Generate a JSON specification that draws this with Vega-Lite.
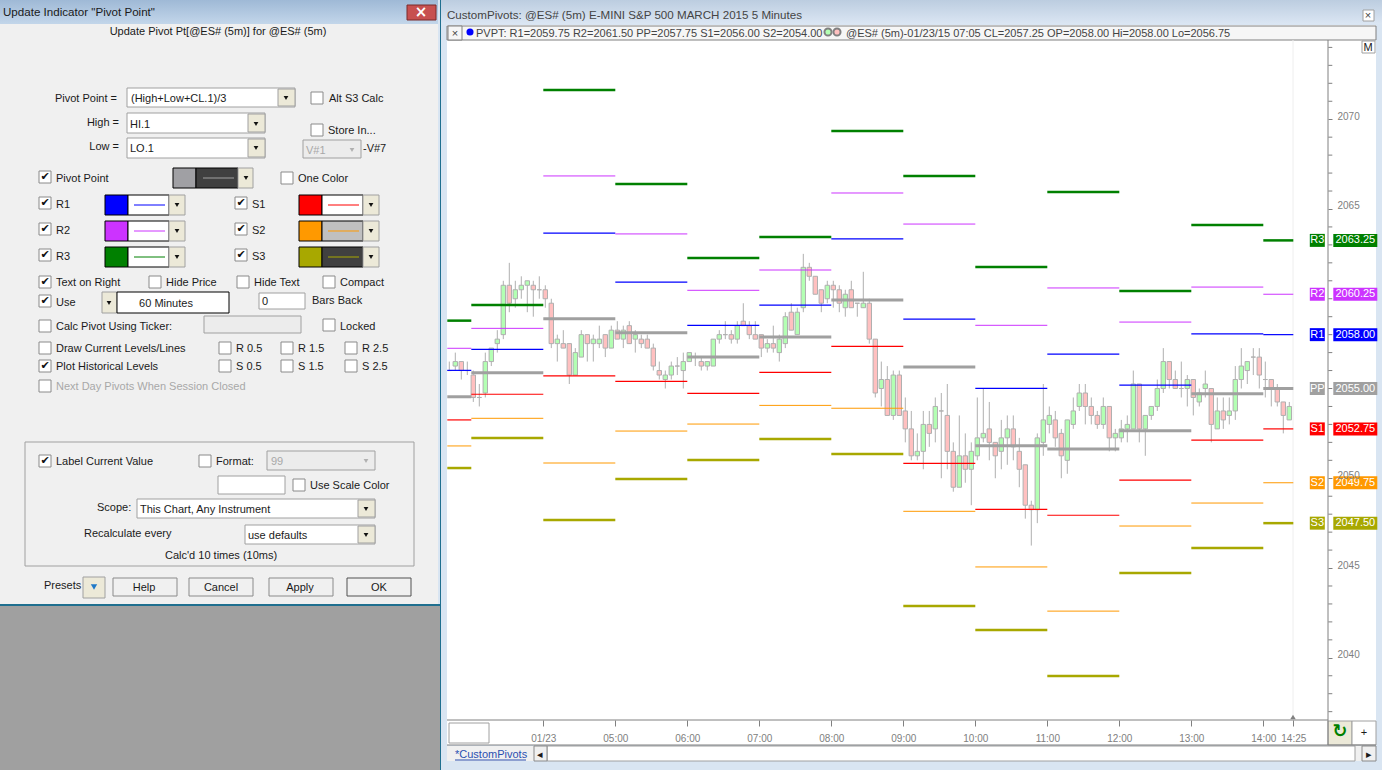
{"$schema":"https://vega.github.io/schema/vega-lite/v6.json","width":1382,"height":770,"padding":0,"autosize":"none","background":"#ffffff","config":{"view":{"stroke":null}},
"datasets":{
"panels":[
{"part":"desktop","col":0,"col2":440,"row":606,"row2":770},
{"part":"dialog","col":0,"col2":438,"row":24,"row2":604},
{"part":"frame","col":438,"col2":441,"row":0,"row2":606},
{"part":"teal","col":0,"col2":441,"row":604,"row2":606},
{"part":"teal","col":440,"col2":441,"row":0,"row2":770},
{"part":"frame","col":441,"col2":1382,"row":24,"row2":770},
{"part":"plot","col":447,"col2":1376,"row":25,"row2":745},
{"part":"strip","col":447,"col2":1376,"row":26,"row2":40},
{"part":"strip","col":448,"col2":462,"row":26,"row2":40},
{"part":"field","col":449,"col2":489,"row":723,"row2":743},
{"part":"ddbtn","col":1328,"col2":1352,"row":721,"row2":745},
{"part":"field","col":1352,"col2":1376,"row":721,"row2":745},
{"part":"dialog","col":447,"col2":1376,"row":746,"row2":761},
{"part":"field","col":547,"col2":1355,"row":746,"row2":761},
{"part":"button","col":534,"col2":547,"row":746,"row2":761},
{"part":"button","col":1362,"col2":1376,"row":746,"row2":761},
{"part":"field","col":1362,"col2":1375,"row":41,"row2":53},
{"part":"field","col":1363,"col2":1374,"row":10,"row2":21},
{"part":"close","col":407,"col2":436,"row":5,"row2":20},
{"part":"field","col":127,"col2":295,"row":88,"row2":107},
{"part":"ddbtn","col":278,"col2":295,"row":89,"row2":106},
{"part":"field","col":127,"col2":265,"row":113,"row2":133},
{"part":"ddbtn","col":248,"col2":265,"row":114,"row2":132},
{"part":"field","col":127,"col2":265,"row":138,"row2":158},
{"part":"ddbtn","col":248,"col2":265,"row":139,"row2":157},
{"part":"disabled","col":303,"col2":361,"row":140,"row2":158},
{"part":"sw-gray","col":173,"col2":196,"row":168,"row2":188},
{"part":"sw-dark","col":196,"col2":238,"row":168,"row2":188},
{"part":"ddbtn","col":238,"col2":253,"row":168,"row2":188},
{"part":"sw-blue","col":105,"col2":128,"row":195,"row2":215},
{"part":"blackbox","col":128,"col2":169,"row":195,"row2":215},
{"part":"ddbtn","col":169,"col2":185,"row":195,"row2":215},
{"part":"sw-magenta","col":105,"col2":128,"row":221,"row2":241},
{"part":"blackbox","col":128,"col2":169,"row":221,"row2":241},
{"part":"ddbtn","col":169,"col2":185,"row":221,"row2":241},
{"part":"sw-green","col":105,"col2":128,"row":247,"row2":267},
{"part":"blackbox","col":128,"col2":169,"row":247,"row2":267},
{"part":"ddbtn","col":169,"col2":185,"row":247,"row2":267},
{"part":"sw-red","col":299,"col2":322,"row":195,"row2":215},
{"part":"blackbox","col":322,"col2":363,"row":195,"row2":215},
{"part":"ddbtn","col":363,"col2":379,"row":195,"row2":215},
{"part":"sw-orange","col":299,"col2":322,"row":221,"row2":241},
{"part":"sw-silver","col":322,"col2":363,"row":221,"row2":241},
{"part":"ddbtn","col":363,"col2":379,"row":221,"row2":241},
{"part":"sw-olive","col":299,"col2":322,"row":247,"row2":267},
{"part":"sw-dark","col":322,"col2":363,"row":247,"row2":267},
{"part":"ddbtn","col":363,"col2":379,"row":247,"row2":267},
{"part":"ddbtn","col":102,"col2":117,"row":292,"row2":313},
{"part":"blackbox","col":117,"col2":229,"row":292,"row2":313},
{"part":"field","col":259,"col2":305,"row":293,"row2":309},
{"part":"disabled","col":204,"col2":301,"row":316,"row2":333},
{"part":"group","col":25,"col2":414,"row":442,"row2":566},
{"part":"disabled","col":267,"col2":375,"row":451,"row2":470},
{"part":"field","col":218,"col2":285,"row":476,"row2":494},
{"part":"field","col":137,"col2":375,"row":499,"row2":518},
{"part":"ddbtn","col":358,"col2":375,"row":500,"row2":517},
{"part":"field","col":245,"col2":375,"row":525,"row2":544},
{"part":"ddbtn","col":358,"col2":375,"row":526,"row2":543},
{"part":"ddbtn","col":83,"col2":105,"row":577,"row2":598},
{"part":"button","col":113,"col2":177,"row":578,"row2":596},
{"part":"button","col":189,"col2":253,"row":578,"row2":596},
{"part":"button","col":269,"col2":333,"row":578,"row2":596},
{"part":"okbutton","col":347,"col2":411,"row":578,"row2":596}
],
"lines":[
{"part":"ln-axis","col":447,"col2":1328,"row":720,"row2":720},
{"part":"ln-axis","col":1328,"col2":1328,"row":40,"row2":745},
{"part":"ln-axis","col":447,"col2":1376,"row":745,"row2":745},
{"part":"ln-faint","col":1293,"col2":1293,"row":40,"row2":716},
{"part":"ln-link","col":455,"col2":526,"row":760,"row2":760},
{"part":"ln-gray","col":203,"col2":234,"row":178,"row2":178},
{"part":"ln-blue","col":134,"col2":165,"row":205,"row2":205},
{"part":"ln-magenta","col":134,"col2":165,"row":231,"row2":231},
{"part":"ln-green","col":134,"col2":165,"row":257,"row2":257},
{"part":"ln-red","col":328,"col2":359,"row":205,"row2":205},
{"part":"ln-orange","col":328,"col2":359,"row":231,"row2":231},
{"part":"ln-olive","col":328,"col2":359,"row":257,"row2":257}
],
"boxes":[
{"col":317,"row":98,"on":false},{"col":317,"row":130,"on":false},{"col":45,"row":177,"on":true},{"col":287,"row":178,"on":false},
{"col":45,"row":203,"on":true},{"col":45,"row":229,"on":true},{"col":45,"row":255,"on":true},
{"col":241,"row":203,"on":true},{"col":241,"row":229,"on":true},{"col":241,"row":255,"on":true},
{"col":45,"row":282,"on":true},{"col":155,"row":282,"on":false},{"col":243,"row":282,"on":false},{"col":329,"row":282,"on":false},
{"col":45,"row":301,"on":true},{"col":45,"row":326,"on":false},{"col":329,"row":325,"on":false},
{"col":45,"row":348,"on":false},{"col":45,"row":366,"on":true},{"col":45,"row":386,"on":false},
{"col":225,"row":348,"on":false},{"col":287,"row":348,"on":false},{"col":351,"row":348,"on":false},
{"col":225,"row":366,"on":false},{"col":287,"row":366,"on":false},{"col":351,"row":366,"on":false},
{"col":45,"row":461,"on":true},{"col":205,"row":461,"on":false},{"col":299,"row":485,"on":false}
],
"arrows":[
{"col":286,"row":98},{"col":256,"row":124},{"col":256,"row":148},{"col":246,"row":178},
{"col":177,"row":205},{"col":177,"row":231},{"col":177,"row":257},{"col":371,"row":205},{"col":371,"row":231},{"col":371,"row":257},
{"col":109,"row":303},{"col":366,"row":509},{"col":366,"row":535}
],
"leftText":[
{"txt":"(High+Low+CL.1)/3","col":131,"row":98,"kind":"ink"},
{"txt":"Alt S3 Calc","col":329,"row":98,"kind":"ink"},
{"txt":"HI.1","col":130,"row":124,"kind":"ink"},
{"txt":"LO.1","col":130,"row":148,"kind":"ink"},
{"txt":"Store In...","col":328,"row":130,"kind":"ink"},
{"txt":"V#1","col":306,"row":150,"kind":"dim"},
{"txt":"-V#7","col":363,"row":148,"kind":"ink"},
{"txt":"Pivot Point","col":56,"row":178,"kind":"ink"},
{"txt":"One Color","col":298,"row":178,"kind":"ink"},
{"txt":"R1","col":56,"row":204,"kind":"ink"},{"txt":"R2","col":56,"row":230,"kind":"ink"},{"txt":"R3","col":56,"row":256,"kind":"ink"},
{"txt":"S1","col":252,"row":204,"kind":"ink"},{"txt":"S2","col":252,"row":230,"kind":"ink"},{"txt":"S3","col":252,"row":256,"kind":"ink"},
{"txt":"Text on Right","col":56,"row":282,"kind":"ink"},{"txt":"Hide Price","col":166,"row":282,"kind":"ink"},{"txt":"Hide Text","col":254,"row":282,"kind":"ink"},{"txt":"Compact","col":340,"row":282,"kind":"ink"},
{"txt":"Use","col":56,"row":302,"kind":"ink"},{"txt":"0","col":262,"row":301,"kind":"ink"},{"txt":"Bars Back","col":312,"row":300,"kind":"ink"},
{"txt":"Calc Pivot Using Ticker:","col":56,"row":326,"kind":"ink"},{"txt":"Locked","col":340,"row":326,"kind":"ink"},
{"txt":"Draw Current Levels/Lines","col":56,"row":348,"kind":"ink"},{"txt":"R 0.5","col":236,"row":348,"kind":"ink"},{"txt":"R 1.5","col":298,"row":348,"kind":"ink"},{"txt":"R 2.5","col":362,"row":348,"kind":"ink"},
{"txt":"Plot Historical Levels","col":56,"row":366,"kind":"ink"},{"txt":"S 0.5","col":236,"row":366,"kind":"ink"},{"txt":"S 1.5","col":298,"row":366,"kind":"ink"},{"txt":"S 2.5","col":362,"row":366,"kind":"ink"},
{"txt":"Next Day Pivots When Session Closed","col":56,"row":386,"kind":"dim"},
{"txt":"Label Current Value","col":56,"row":461,"kind":"ink"},{"txt":"Format:","col":216,"row":461,"kind":"ink"},{"txt":"99","col":271,"row":461,"kind":"dim"},
{"txt":"Use Scale Color","col":310,"row":485,"kind":"ink"},
{"txt":"Scope:","col":97,"row":507,"kind":"ink"},{"txt":"This Chart, Any Instrument","col":140,"row":509,"kind":"ink"},
{"txt":"Recalculate every","col":84,"row":533,"kind":"ink"},{"txt":"use defaults","col":248,"row":535,"kind":"ink"},
{"txt":"Calc'd 10 times (10ms)","col":165,"row":555,"kind":"ink"},{"txt":"Presets","col":44,"row":585,"kind":"ink"},
{"txt":"PVPT: R1=2059.75 R2=2061.50 PP=2057.75 S1=2056.00 S2=2054.00","col":476,"row":33,"kind":"soft"},
{"txt":"@ES# (5m)-01/23/15 07:05 CL=2057.25 OP=2058.00 Hi=2058.00 Lo=2056.75","col":846,"row":33,"kind":"soft"},
{"txt":"*CustomPivots","col":455,"row":754,"kind":"link"}
],
"centerText":[
{"txt":"Update Pivot Pt[@ES# (5m)]  for @ES# (5m)","col":218,"row":31,"kind":"ink"},
{"txt":"60 Minutes","col":166,"row":303,"kind":"ink"},
{"txt":"Help","col":144,"row":587,"kind":"ink"},{"txt":"Cancel","col":221,"row":587,"kind":"ink"},{"txt":"Apply","col":300,"row":587,"kind":"ink"},{"txt":"OK","col":379,"row":587,"kind":"ink"},
{"txt":"M","col":1368,"row":47,"kind":"ink"},{"txt":"×","col":455,"row":33,"kind":"soft"},{"txt":"×","col":1368,"row":15,"kind":"soft"},{"txt":"+","col":1364,"row":732,"kind":"ink"},
{"txt":"◂","col":540,"row":754,"kind":"ink"},{"txt":"▸","col":1369,"row":754,"kind":"ink"}
],
"rightText":[
{"txt":"Pivot Point =","col":117,"row":98,"kind":"ink"},{"txt":"High =","col":119,"row":122,"kind":"ink"},{"txt":"Low =","col":119,"row":146,"kind":"ink"}
],
"headers":[
{"txt":"Update Indicator \"Pivot Point\"","col":3,"row":13,"kind":"ink"},
{"txt":"CustomPivots: @ES# (5m) E-MINI S&P 500 MARCH 2015 5 Minutes","col":447,"row":16,"kind":"soft"}
],
"candles":[
{"t":"2015-01-23T02:45","o":2056,"h":2056.5,"l":2056,"c":2056},
{"t":"2015-01-23T02:50","o":2056.25,"h":2057,"l":2056,"c":2056.5},
{"t":"2015-01-23T02:55","o":2056.5,"h":2056.5,"l":2055.5,"c":2056},
{"t":"2015-01-23T03:00","o":2056,"h":2056.5,"l":2055.75,"c":2056},
{"t":"2015-01-23T03:05","o":2055.75,"h":2056,"l":2054.25,"c":2054.5},
{"t":"2015-01-23T03:10","o":2054.5,"h":2055.25,"l":2054,"c":2054.5},
{"t":"2015-01-23T03:15","o":2054.75,"h":2057,"l":2054.5,"c":2056.5},
{"t":"2015-01-23T03:20","o":2056.5,"h":2057.25,"l":2056.25,"c":2057.25},
{"t":"2015-01-23T03:25","o":2057.5,"h":2058.25,"l":2057,"c":2057.75},
{"t":"2015-01-23T03:30","o":2058,"h":2061,"l":2057.75,"c":2060.75},
{"t":"2015-01-23T03:35","o":2060.75,"h":2062,"l":2059.25,"c":2059.75},
{"t":"2015-01-23T03:40","o":2060,"h":2061,"l":2059.5,"c":2060.5},
{"t":"2015-01-23T03:45","o":2060.5,"h":2061.25,"l":2060,"c":2060.75},
{"t":"2015-01-23T03:50","o":2060.75,"h":2061,"l":2059.25,"c":2061},
{"t":"2015-01-23T03:55","o":2060.75,"h":2061,"l":2059,"c":2060.5},
{"t":"2015-01-23T04:00","o":2060.5,"h":2061.25,"l":2060,"c":2060.5},
{"t":"2015-01-23T04:05","o":2060.5,"h":2060.75,"l":2059.5,"c":2060},
{"t":"2015-01-23T04:10","o":2059.75,"h":2060,"l":2057.25,"c":2057.5},
{"t":"2015-01-23T04:15","o":2057.5,"h":2058,"l":2056.5,"c":2057.75},
{"t":"2015-01-23T04:20","o":2057.5,"h":2058.25,"l":2057.25,"c":2057.25},
{"t":"2015-01-23T04:25","o":2057.5,"h":2057.5,"l":2055.25,"c":2055.75},
{"t":"2015-01-23T04:30","o":2055.75,"h":2057.25,"l":2055.75,"c":2057},
{"t":"2015-01-23T04:35","o":2056.75,"h":2058.25,"l":2056.75,"c":2058},
{"t":"2015-01-23T04:40","o":2058,"h":2058,"l":2056.5,"c":2057.5},
{"t":"2015-01-23T04:45","o":2057.5,"h":2058,"l":2056.5,"c":2057.75},
{"t":"2015-01-23T04:50","o":2057.5,"h":2058.5,"l":2057.25,"c":2057.75},
{"t":"2015-01-23T04:55","o":2058,"h":2058,"l":2056.75,"c":2057.25},
{"t":"2015-01-23T05:00","o":2057.25,"h":2058.5,"l":2057.25,"c":2058.25},
{"t":"2015-01-23T05:05","o":2058.25,"h":2058.75,"l":2057.75,"c":2057.75},
{"t":"2015-01-23T05:10","o":2057.75,"h":2058.5,"l":2057.25,"c":2058.25},
{"t":"2015-01-23T05:15","o":2058.5,"h":2058.75,"l":2057.5,"c":2057.5},
{"t":"2015-01-23T05:20","o":2057.75,"h":2058.25,"l":2057,"c":2058},
{"t":"2015-01-23T05:25","o":2057.75,"h":2058,"l":2057.25,"c":2057.5},
{"t":"2015-01-23T05:30","o":2057.75,"h":2058,"l":2057.25,"c":2057.25},
{"t":"2015-01-23T05:35","o":2057.25,"h":2057.5,"l":2056,"c":2056.25},
{"t":"2015-01-23T05:40","o":2056,"h":2056.5,"l":2055.5,"c":2055.75},
{"t":"2015-01-23T05:45","o":2055.5,"h":2056,"l":2055,"c":2055.75},
{"t":"2015-01-23T05:50","o":2055.75,"h":2056.5,"l":2055.5,"c":2056.25},
{"t":"2015-01-23T05:55","o":2056.25,"h":2056.75,"l":2055.75,"c":2056.25},
{"t":"2015-01-23T06:00","o":2056,"h":2057,"l":2055,"c":2056.5},
{"t":"2015-01-23T06:05","o":2056.5,"h":2057,"l":2056.5,"c":2057},
{"t":"2015-01-23T06:10","o":2056.75,"h":2057,"l":2056.25,"c":2056.75},
{"t":"2015-01-23T06:15","o":2056.5,"h":2056.75,"l":2056,"c":2056.25},
{"t":"2015-01-23T06:20","o":2056.25,"h":2056.5,"l":2056,"c":2056.5},
{"t":"2015-01-23T06:25","o":2056.25,"h":2057.75,"l":2056.25,"c":2057.75},
{"t":"2015-01-23T06:30","o":2057.75,"h":2058.25,"l":2057.5,"c":2058},
{"t":"2015-01-23T06:35","o":2058,"h":2058.75,"l":2057.75,"c":2058},
{"t":"2015-01-23T06:40","o":2058,"h":2058.25,"l":2057.5,"c":2057.75},
{"t":"2015-01-23T06:45","o":2057.75,"h":2058.75,"l":2057.5,"c":2058.5},
{"t":"2015-01-23T06:50","o":2058.75,"h":2059.75,"l":2058.5,"c":2058.5},
{"t":"2015-01-23T06:55","o":2058.5,"h":2058.75,"l":2057.75,"c":2058},
{"t":"2015-01-23T07:00","o":2058,"h":2058.75,"l":2057.75,"c":2057.75},
{"t":"2015-01-23T07:05","o":2058,"h":2058,"l":2056.75,"c":2057.25},
{"t":"2015-01-23T07:10","o":2057.25,"h":2057.75,"l":2057,"c":2057.5},
{"t":"2015-01-23T07:15","o":2057.5,"h":2058.5,"l":2057,"c":2057.25},
{"t":"2015-01-23T07:20","o":2057,"h":2058,"l":2056.5,"c":2057.75},
{"t":"2015-01-23T07:25","o":2057.5,"h":2059.25,"l":2057.25,"c":2059},
{"t":"2015-01-23T07:30","o":2059.25,"h":2059.75,"l":2058.25,"c":2058.25},
{"t":"2015-01-23T07:35","o":2058,"h":2059.5,"l":2058,"c":2059.25},
{"t":"2015-01-23T07:40","o":2059.5,"h":2062.5,"l":2059.25,"c":2061.75},
{"t":"2015-01-23T07:45","o":2061.75,"h":2062,"l":2061,"c":2061.25},
{"t":"2015-01-23T07:50","o":2061.25,"h":2061.25,"l":2060.25,"c":2060.25},
{"t":"2015-01-23T07:55","o":2060.5,"h":2060.5,"l":2059.25,"c":2059.75},
{"t":"2015-01-23T08:00","o":2060,"h":2061,"l":2059.75,"c":2060.75},
{"t":"2015-01-23T08:05","o":2060.75,"h":2061,"l":2059.5,"c":2060.5},
{"t":"2015-01-23T08:10","o":2060.5,"h":2060.75,"l":2059.25,"c":2059.75},
{"t":"2015-01-23T08:15","o":2059.5,"h":2060.5,"l":2059,"c":2060.25},
{"t":"2015-01-23T08:20","o":2060.5,"h":2061,"l":2059.5,"c":2059.5},
{"t":"2015-01-23T08:25","o":2059.75,"h":2059.75,"l":2059,"c":2059.75},
{"t":"2015-01-23T08:30","o":2059.5,"h":2061.5,"l":2059.5,"c":2059.75},
{"t":"2015-01-23T08:35","o":2059.75,"h":2060,"l":2057.5,"c":2057.75},
{"t":"2015-01-23T08:40","o":2057.75,"h":2057.75,"l":2054.5,"c":2054.75},
{"t":"2015-01-23T08:45","o":2055,"h":2056.5,"l":2054,"c":2055.5},
{"t":"2015-01-23T08:50","o":2055.5,"h":2056.25,"l":2053.5,"c":2053.5},
{"t":"2015-01-23T08:55","o":2053.5,"h":2056,"l":2053.25,"c":2055.75},
{"t":"2015-01-23T09:00","o":2055.75,"h":2056,"l":2053.5,"c":2053.5},
{"t":"2015-01-23T09:05","o":2053.75,"h":2054.5,"l":2052,"c":2052.75},
{"t":"2015-01-23T09:10","o":2052.75,"h":2053.75,"l":2051,"c":2051.25},
{"t":"2015-01-23T09:15","o":2051.25,"h":2052.5,"l":2051,"c":2051.5},
{"t":"2015-01-23T09:20","o":2051.5,"h":2053.75,"l":2050.5,"c":2053},
{"t":"2015-01-23T09:25","o":2053,"h":2053.75,"l":2051.75,"c":2052.5},
{"t":"2015-01-23T09:30","o":2052.75,"h":2054.5,"l":2052,"c":2054},
{"t":"2015-01-23T09:35","o":2053.75,"h":2054.75,"l":2050,"c":2053.75},
{"t":"2015-01-23T09:40","o":2053.5,"h":2055.25,"l":2050.5,"c":2051.5},
{"t":"2015-01-23T09:45","o":2051.5,"h":2052,"l":2049.25,"c":2049.5},
{"t":"2015-01-23T09:50","o":2049.5,"h":2053.5,"l":2049.5,"c":2051.25},
{"t":"2015-01-23T09:55","o":2051.25,"h":2052.5,"l":2049.75,"c":2050.5},
{"t":"2015-01-23T10:00","o":2050.5,"h":2052,"l":2048.5,"c":2051.5},
{"t":"2015-01-23T10:05","o":2051.25,"h":2054.5,"l":2051,"c":2052.25},
{"t":"2015-01-23T10:10","o":2052.25,"h":2055,"l":2052,"c":2052.5},
{"t":"2015-01-23T10:15","o":2052.75,"h":2054.25,"l":2051,"c":2052},
{"t":"2015-01-23T10:20","o":2052,"h":2052,"l":2050,"c":2051.25},
{"t":"2015-01-23T10:25","o":2051.5,"h":2053.25,"l":2050.5,"c":2052.25},
{"t":"2015-01-23T10:30","o":2052.25,"h":2053.5,"l":2050.75,"c":2052.75},
{"t":"2015-01-23T10:35","o":2052.75,"h":2053.5,"l":2051,"c":2051.75},
{"t":"2015-01-23T10:40","o":2051.5,"h":2052.25,"l":2049.5,"c":2050.5},
{"t":"2015-01-23T10:45","o":2050.75,"h":2050.75,"l":2047.75,"c":2048.5},
{"t":"2015-01-23T10:50","o":2048.5,"h":2048.75,"l":2046.25,"c":2048.25},
{"t":"2015-01-23T10:55","o":2048.25,"h":2052.5,"l":2047.5,"c":2052.25},
{"t":"2015-01-23T11:00","o":2052,"h":2055.25,"l":2051.25,"c":2053.25},
{"t":"2015-01-23T11:05","o":2053,"h":2054,"l":2052.5,"c":2053.5},
{"t":"2015-01-23T11:10","o":2053.25,"h":2053.75,"l":2051.75,"c":2052.25},
{"t":"2015-01-23T11:15","o":2052.5,"h":2052.75,"l":2050,"c":2051.25},
{"t":"2015-01-23T11:20","o":2051,"h":2053.25,"l":2050.25,"c":2053.25},
{"t":"2015-01-23T11:25","o":2053,"h":2054.5,"l":2052.75,"c":2053.75},
{"t":"2015-01-23T11:30","o":2054,"h":2055.25,"l":2053.75,"c":2054.75},
{"t":"2015-01-23T11:35","o":2054.75,"h":2055.25,"l":2053,"c":2054},
{"t":"2015-01-23T11:40","o":2054,"h":2054.5,"l":2053,"c":2053.5},
{"t":"2015-01-23T11:45","o":2053.5,"h":2053.75,"l":2052.75,"c":2053},
{"t":"2015-01-23T11:50","o":2053,"h":2054.5,"l":2052.75,"c":2054},
{"t":"2015-01-23T11:55","o":2054,"h":2054,"l":2051.5,"c":2052.25},
{"t":"2015-01-23T12:00","o":2052.25,"h":2052.75,"l":2051.5,"c":2052.5},
{"t":"2015-01-23T12:05","o":2052.25,"h":2053.25,"l":2052,"c":2052.75},
{"t":"2015-01-23T12:10","o":2052.75,"h":2053.5,"l":2052,"c":2053},
{"t":"2015-01-23T12:15","o":2052.75,"h":2056,"l":2052.75,"c":2055.25},
{"t":"2015-01-23T12:20","o":2055.25,"h":2055.25,"l":2052,"c":2052.75},
{"t":"2015-01-23T12:25","o":2052.75,"h":2053.5,"l":2051.25,"c":2053.5},
{"t":"2015-01-23T12:30","o":2053.5,"h":2054,"l":2053.25,"c":2054},
{"t":"2015-01-23T12:35","o":2054,"h":2055.5,"l":2053.75,"c":2055},
{"t":"2015-01-23T12:40","o":2055,"h":2057.25,"l":2054.75,"c":2056.5},
{"t":"2015-01-23T12:45","o":2056.5,"h":2056.5,"l":2055,"c":2055.5},
{"t":"2015-01-23T12:50","o":2055.5,"h":2056,"l":2055,"c":2055},
{"t":"2015-01-23T12:55","o":2055,"h":2056.5,"l":2054.5,"c":2055},
{"t":"2015-01-23T13:00","o":2055,"h":2055.75,"l":2054,"c":2055.5},
{"t":"2015-01-23T13:05","o":2055.5,"h":2055.5,"l":2053.5,"c":2054.5},
{"t":"2015-01-23T13:10","o":2054.25,"h":2055,"l":2054,"c":2054.75},
{"t":"2015-01-23T13:15","o":2055,"h":2056,"l":2054.5,"c":2055.25},
{"t":"2015-01-23T13:20","o":2055,"h":2055,"l":2052,"c":2053},
{"t":"2015-01-23T13:25","o":2052.75,"h":2054.5,"l":2052.75,"c":2053.75},
{"t":"2015-01-23T13:30","o":2053.75,"h":2054.5,"l":2052.75,"c":2053.25},
{"t":"2015-01-23T13:35","o":2053.5,"h":2054.5,"l":2053,"c":2053.75},
{"t":"2015-01-23T13:40","o":2053.75,"h":2056.25,"l":2053.25,"c":2055.5},
{"t":"2015-01-23T13:45","o":2055.5,"h":2057.25,"l":2055,"c":2056.25},
{"t":"2015-01-23T13:50","o":2056,"h":2056.5,"l":2055.25,"c":2056.5},
{"t":"2015-01-23T13:55","o":2056.75,"h":2057.25,"l":2055.75,"c":2056.75},
{"t":"2015-01-23T14:00","o":2056.75,"h":2057.25,"l":2055,"c":2055.75},
{"t":"2015-01-23T14:05","o":2055.5,"h":2056.5,"l":2054.5,"c":2055.5},
{"t":"2015-01-23T14:10","o":2055.5,"h":2055.5,"l":2054,"c":2055},
{"t":"2015-01-23T14:15","o":2055,"h":2055.25,"l":2054,"c":2054.25},
{"t":"2015-01-23T14:20","o":2054.25,"h":2054.25,"l":2052.5,"c":2053.5},
{"t":"2015-01-23T14:25","o":2053.25,"h":2054.25,"l":2053.25,"c":2054}
],
"levels":[
{"a":"2015-01-23T02:40","b":"2015-01-23T03:00","R3":2058.78,"R2":2057.24,"R1":2056.01,"PP":2054.54,"S1":2053.25,"S2":2051.8,"S3":2050.57},
{"a":"2015-01-23T03:00","b":"2015-01-23T04:00","R3":2059.65,"R2":2058.35,"R1":2057.18,"PP":2055.88,"S1":2054.68,"S2":2053.34,"S3":2052.24},
{"a":"2015-01-23T04:00","b":"2015-01-23T05:00","R3":2071.63,"R2":2066.84,"R1":2063.66,"PP":2058.89,"S1":2055.7,"S2":2050.85,"S3":2047.67},
{"a":"2015-01-23T05:00","b":"2015-01-23T06:00","R3":2066.39,"R2":2063.61,"R1":2060.92,"PP":2058.11,"S1":2055.4,"S2":2052.63,"S3":2049.96},
{"a":"2015-01-23T06:00","b":"2015-01-23T07:00","R3":2062.27,"R2":2060.47,"R1":2058.52,"PP":2056.75,"S1":2054.73,"S2":2053.02,"S3":2051.02},
{"a":"2015-01-23T07:00","b":"2015-01-23T08:00","R3":2063.44,"R2":2061.6,"R1":2059.64,"PP":2057.87,"S1":2055.9,"S2":2054.06,"S3":2052.19},
{"a":"2015-01-23T08:00","b":"2015-01-23T09:00","R3":2069.35,"R2":2065.89,"R1":2063.33,"PP":2059.93,"S1":2057.35,"S2":2053.9,"S3":2051.35},
{"a":"2015-01-23T09:00","b":"2015-01-23T10:00","R3":2066.84,"R2":2064.16,"R1":2058.86,"PP":2056.2,"S1":2050.83,"S2":2048.16,"S3":2042.88},
{"a":"2015-01-23T10:00","b":"2015-01-23T11:00","R3":2061.77,"R2":2058.52,"R1":2055.01,"PP":2051.81,"S1":2048.27,"S2":2045.06,"S3":2041.55},
{"a":"2015-01-23T11:00","b":"2015-01-23T12:00","R3":2065.95,"R2":2060.6,"R1":2056.92,"PP":2051.63,"S1":2047.94,"S2":2042.6,"S3":2038.98},
{"a":"2015-01-23T12:00","b":"2015-01-23T13:00","R3":2060.43,"R2":2058.7,"R1":2055.19,"PP":2052.65,"S1":2049.9,"S2":2047.34,"S3":2044.72},
{"a":"2015-01-23T13:00","b":"2015-01-23T14:00","R3":2064.11,"R2":2060.65,"R1":2058.04,"PP":2054.71,"S1":2052.13,"S2":2048.62,"S3":2046.11},
{"a":"2015-01-23T14:00","b":"2015-01-23T14:25","R3":2063.25,"R2":2060.25,"R1":2058,"PP":2055,"S1":2052.75,"S2":2049.75,"S3":2047.5}
],
"chips":[
{"t":"2015-01-23T14:25","lv":"R3","p":2063.25,"val":"2063.25"},
{"t":"2015-01-23T14:25","lv":"R2","p":2060.25,"val":"2060.25"},
{"t":"2015-01-23T14:25","lv":"R1","p":2058,"val":"2058.00"},
{"t":"2015-01-23T14:25","lv":"PP","p":2055,"val":"2055.00"},
{"t":"2015-01-23T14:25","lv":"S1","p":2052.75,"val":"2052.75"},
{"t":"2015-01-23T14:25","lv":"S2","p":2049.75,"val":"2049.75"},
{"t":"2015-01-23T14:25","lv":"S3","p":2047.5,"val":"2047.50"}
],
"minorTicks":[
{"t":"2015-01-23T14:25","p":2037},{"t":"2015-01-23T14:25","p":2038},{"t":"2015-01-23T14:25","p":2039},{"t":"2015-01-23T14:25","p":2041},{"t":"2015-01-23T14:25","p":2042},{"t":"2015-01-23T14:25","p":2043},{"t":"2015-01-23T14:25","p":2044},{"t":"2015-01-23T14:25","p":2046},{"t":"2015-01-23T14:25","p":2047},{"t":"2015-01-23T14:25","p":2048},{"t":"2015-01-23T14:25","p":2049},{"t":"2015-01-23T14:25","p":2051},{"t":"2015-01-23T14:25","p":2052},{"t":"2015-01-23T14:25","p":2053},{"t":"2015-01-23T14:25","p":2054},{"t":"2015-01-23T14:25","p":2055},{"t":"2015-01-23T14:25","p":2056},{"t":"2015-01-23T14:25","p":2057},{"t":"2015-01-23T14:25","p":2058},{"t":"2015-01-23T14:25","p":2059},{"t":"2015-01-23T14:25","p":2060},{"t":"2015-01-23T14:25","p":2061},{"t":"2015-01-23T14:25","p":2062},{"t":"2015-01-23T14:25","p":2063},{"t":"2015-01-23T14:25","p":2064},{"t":"2015-01-23T14:25","p":2066},{"t":"2015-01-23T14:25","p":2067},{"t":"2015-01-23T14:25","p":2068},{"t":"2015-01-23T14:25","p":2069},{"t":"2015-01-23T14:25","p":2071},{"t":"2015-01-23T14:25","p":2072},{"t":"2015-01-23T14:25","p":2073},{"t":"2015-01-23T14:25","p":2074}
]
},
"resolve":{"scale":{"x":"independent","y":"independent","stroke":"independent","color":"independent","fill":"independent"}},
"layer":[
{
"encoding":{
"x":{"field":"col","type":"quantitative","axis":null,"scale":{"domain":[0,1382],"nice":false,"zero":false}},
"y":{"field":"row","type":"quantitative","axis":null,"scale":{"domain":[770,0],"nice":false,"zero":false}}
},
"layer":[
{"data":{"values":[{"col":0,"col2":438,"row":0,"row2":24}]},"mark":{"type":"rect","color":{"gradient":"linear","x1":0,"y1":0,"x2":0,"y2":1,"stops":[{"offset":0,"color":"#9fb9d6"},{"offset":1,"color":"#c3d6ea"}]}},"encoding":{"x2":{"field":"col2"},"y2":{"field":"row2"}}},
{"data":{"values":[{"col":441,"col2":1382,"row":0,"row2":24}]},"mark":{"type":"rect","color":{"gradient":"linear","x1":0,"y1":0,"x2":0,"y2":1,"stops":[{"offset":0,"color":"#bccde0"},{"offset":1,"color":"#dbe6f3"}]}},"encoding":{"x2":{"field":"col2"},"y2":{"field":"row2"}}},
{"data":{"name":"panels"},"mark":{"type":"rect","strokeWidth":1},
"encoding":{"x2":{"field":"col2"},"y2":{"field":"row2"},
"fill":{"field":"part","type":"nominal","legend":null,"scale":{"domain":["desktop","dialog","frame","teal","plot","strip","field","ddbtn","button","okbutton","close","disabled","group","blackbox","sw-gray","sw-dark","sw-blue","sw-magenta","sw-green","sw-red","sw-orange","sw-silver","sw-olive"],"range":["#a0a0a0","#f0f0f0","#d9e5f2","#1f6f8f","#ffffff","#f6f6f6","#ffffff","#ece9d8","#f0f0f0","#f0f0f0","#c75050","#ececec","transparent","#ffffff","#a0a0a4","#404040","#0000ff","#cc33ff","#008000","#ff0000","#ff9900","#c0c0c0","#a8a800"]}},
"stroke":{"field":"part","type":"nominal","legend":null,"scale":{"domain":["desktop","dialog","frame","teal","plot","strip","field","ddbtn","button","okbutton","close","disabled","group","blackbox","sw-gray","sw-dark","sw-blue","sw-magenta","sw-green","sw-red","sw-orange","sw-silver","sw-olive","ln-axis","ln-faint","ln-link","ln-gray","ln-blue","ln-magenta","ln-green","ln-red","ln-orange","ln-olive"],"range":["transparent","transparent","transparent","transparent","transparent","#808080","#a0a0a0","#a0a0a0","#8a8a8a","#505050","#7a2a2a","#a0a0a0","#a0a0a0","#000000","#000000","#000000","#000000","#000000","#000000","#000000","#000000","#000000","#000000","#808080","#eeeeee","#2a4fb0","#a0a0a0","#0000ff","#cc33ff","#008000","#ff0000","#ff9900","#a8a800"]}}}},
{"data":{"name":"lines"},"mark":{"type":"rule","strokeWidth":1},"encoding":{"x2":{"field":"col2"},"y2":{"field":"row2"},"stroke":{"field":"part","type":"nominal","legend":null}}},
{"data":{"name":"boxes"},"mark":{"type":"point","shape":"square","size":144,"filled":true,"fill":"#ffffff","stroke":"#8a8a8a","strokeWidth":1,"opacity":1}},
{"data":{"name":"boxes"},"transform":[{"filter":"datum.on"}],"mark":{"type":"text","text":"✔","font":"DejaVu Sans","fontSize":11,"color":"#111111"}},
{"data":{"name":"arrows"},"mark":{"type":"point","shape":"triangle-down","size":22,"filled":true,"color":"#111111","opacity":1}},
{"data":{"values":[{"col":94,"row":587}]},"mark":{"type":"point","shape":"triangle-down","size":40,"filled":true,"color":"#1f78c8","opacity":1}},
{"data":{"values":[{"col":366,"row":461},{"col":352,"row":150}]},"mark":{"type":"point","shape":"triangle-down","size":22,"filled":true,"color":"#b0b0b0","opacity":1}},
{"data":{"values":[{"col":470,"row":32}]},"mark":{"type":"point","shape":"circle","size":50,"filled":true,"color":"#0000ff","opacity":1}},
{"data":{"values":[{"col":828,"row":32}]},"mark":{"type":"point","shape":"circle","size":50,"filled":true,"fill":"#b3ffb3","stroke":"#808080","opacity":1}},
{"data":{"values":[{"col":837,"row":32}]},"mark":{"type":"point","shape":"circle","size":50,"filled":true,"fill":"#ffc0c0","stroke":"#808080","opacity":1}},
{"data":{"values":[{"col":1293,"row":717}]},"mark":{"type":"point","shape":"triangle-up","size":30,"filled":true,"color":"#808080","opacity":1}},
{"data":{"values":[{"col":1340,"row":732,"g":"↻"}]},"mark":{"type":"text","font":"DejaVu Sans","fontSize":18,"fontWeight":"bold","color":"#008000"},"encoding":{"text":{"field":"g"}}},
{"data":{"values":[{"col":421,"row":12,"g":"×"}]},"mark":{"type":"text","font":"DejaVu Sans","fontSize":15,"fontWeight":"bold","color":"#ffffff"},"encoding":{"text":{"field":"g"}}},
{"data":{"name":"leftText"},"mark":{"type":"text","align":"left","baseline":"middle","dy":1,"font":"Liberation Sans","fontSize":11},"encoding":{"text":{"field":"txt"},"color":{"field":"kind","type":"nominal","legend":null,"scale":{"domain":["ink","dim","soft","link"],"range":["#1a1a1a","#a8a8a8","#444444","#2a4fb0"]}}}},
{"data":{"name":"centerText"},"mark":{"type":"text","align":"center","baseline":"middle","dy":1,"font":"Liberation Sans","fontSize":11},"encoding":{"text":{"field":"txt"},"color":{"field":"kind","type":"nominal","legend":null}}},
{"data":{"name":"rightText"},"mark":{"type":"text","align":"right","baseline":"middle","dy":1,"font":"Liberation Sans","fontSize":11},"encoding":{"text":{"field":"txt"},"color":{"field":"kind","type":"nominal","legend":null}}},
{"data":{"name":"headers"},"mark":{"type":"text","align":"left","baseline":"middle","font":"Liberation Sans","fontSize":11.6},"encoding":{"text":{"field":"txt"},"color":{"field":"kind","type":"nominal","legend":null}}}
]
},
{
"layer":[
{"data":{"name":"candles"},
"encoding":{"x":{"field":"t","type":"temporal","title":null,
"scale":{"type":"time","nice":false,"padding":0,"domain":[{"year":2015,"month":1,"date":22,"hours":20,"minutes":27,"seconds":15},{"year":2015,"month":1,"date":23,"hours":15,"minutes":38,"seconds":55}]},
"axis":{"orient":"bottom","offset":-50,"zindex":1,"domain":false,"grid":false,"title":null,"tickColor":"#808080","tickSize":6,"labelColor":"#808080","labelFont":"Liberation Sans","labelFontSize":10,"labelPadding":7,"labelOverlap":false,"labelFlush":false,"labelAngle":0,
"values":[{"year":2015,"month":1,"date":23,"hours":4},{"year":2015,"month":1,"date":23,"hours":5},{"year":2015,"month":1,"date":23,"hours":6},{"year":2015,"month":1,"date":23,"hours":7},{"year":2015,"month":1,"date":23,"hours":8},{"year":2015,"month":1,"date":23,"hours":9},{"year":2015,"month":1,"date":23,"hours":10},{"year":2015,"month":1,"date":23,"hours":11},{"year":2015,"month":1,"date":23,"hours":12},{"year":2015,"month":1,"date":23,"hours":13},{"year":2015,"month":1,"date":23,"hours":14},{"year":2015,"month":1,"date":23,"hours":14,"minutes":25}],
"labelExpr":"timeFormat(datum.value,'%H:%M')=='04:00'?'01/23':timeFormat(datum.value,'%H:%M')"}}},
"layer":[
{"mark":{"type":"rule","color":"#b0b0b0","strokeWidth":1,"xOffset":-4},
"encoding":{"y":{"field":"l","type":"quantitative","title":null,
"scale":{"domain":[2033.75,2076.64],"nice":false,"zero":false},
"axis":{"orient":"right","offset":-54,"zindex":1,"domain":false,"grid":false,"title":null,"tickColor":"#808080","tickSize":4,"labelColor":"#808080","labelFont":"Liberation Sans","labelFontSize":10,"labelPadding":5,"labelOffset":-3,"labelOverlap":false,"format":"d",
"values":[2040,2045,2050,2065,2070]}},
"y2":{"field":"h"}}},
{"mark":{"type":"bar","size":4.4,"stroke":"#b0b0b0","strokeWidth":1,"xOffset":-4,"orient":"vertical"},
"encoding":{"y":{"field":"o","type":"quantitative"},"y2":{"field":"c"},
"fill":{"condition":{"test":"datum.c>=datum.o","value":"#b3ffb3"},"value":"#ffc0c0"}}}
]
},
{"data":{"name":"minorTicks"},"mark":{"type":"tick","orient":"horizontal","size":4,"thickness":1,"xOffset":37,"color":"#808080","opacity":1},
"encoding":{"x":{"field":"t","type":"temporal"},"y":{"field":"p","type":"quantitative"}}},
{"data":{"name":"levels","format":{"parse":{"a":"date","b":"date"}}},
"transform":[{"fold":["R3","R2","R1","PP","S1","S2","S3"],"as":["lv","p"]}],
"mark":{"type":"rule"},
"encoding":{"x":{"field":"a","type":"temporal"},"x2":{"field":"b"},"y":{"field":"p","type":"quantitative"},
"stroke":{"field":"lv","type":"nominal","legend":null,"scale":{"domain":["R3","R2","R1","PP","S1","S2","S3"],"range":["#008000","#cc33ff","#0000ff","#a0a0a0","#ff0000","#ff9900","#a8a800"]}},
"strokeWidth":{"field":"lv","type":"nominal","legend":null,"scale":{"type":"ordinal","domain":["R3","R2","R1","PP","S1","S2","S3"],"range":[2.5,1,1.2,3,1.2,1,2.5]}}}},
{"data":{"name":"chips"},"mark":{"type":"tick","orient":"horizontal","size":15,"thickness":13,"xOffset":24,"opacity":1},
"encoding":{"x":{"field":"t","type":"temporal"},"y":{"field":"p","type":"quantitative"},"color":{"field":"lv","type":"nominal","legend":null,"scale":{"domain":["R3","R2","R1","PP","S1","S2","S3"],"range":["#008000","#cc33ff","#0000ff","#a0a0a0","#ff0000","#ff9900","#a8a800"]}}}},
{"data":{"name":"chips"},"mark":{"type":"tick","orient":"horizontal","size":44,"thickness":13,"xOffset":62,"opacity":1},
"encoding":{"x":{"field":"t","type":"temporal"},"y":{"field":"p","type":"quantitative"},"color":{"field":"lv","type":"nominal","legend":null}}},
{"data":{"name":"chips"},"mark":{"type":"text","xOffset":24,"font":"Liberation Sans","fontSize":11,"color":"#ffffff","baseline":"middle"},
"encoding":{"x":{"field":"t","type":"temporal"},"y":{"field":"p","type":"quantitative"},"text":{"field":"lv"}}},
{"data":{"name":"chips"},"mark":{"type":"text","xOffset":62,"font":"Liberation Sans","fontSize":11,"color":"#ffffff","baseline":"middle"},
"encoding":{"x":{"field":"t","type":"temporal"},"y":{"field":"p","type":"quantitative"},"text":{"field":"val"}}}
]
}
]
}
